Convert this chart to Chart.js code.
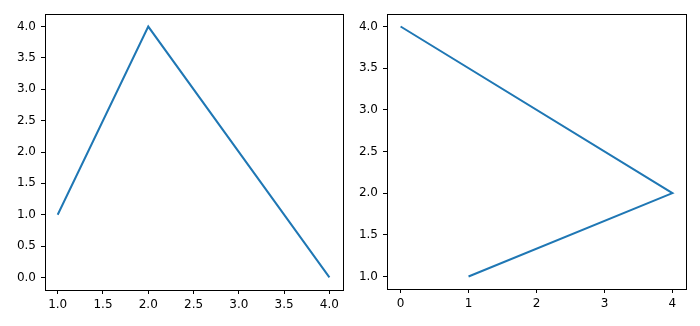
<!DOCTYPE html>
<html>
<head>
<meta charset="utf-8">
<script src="https://cdn.jsdelivr.net/npm/chart.js@4/dist/chart.umd.min.js"></script>
<style>
  body { margin: 0; background: #fff; }
  .box { position: absolute; top: 0; width: 350px; height: 326px; }
  #left { left: 0; }
  #right { left: 350px; }
</style>
</head>
<body>
<div class="box" id="left"><canvas id="chartLeft"></canvas></div>
<div class="box" id="right"><canvas id="chartRight"></canvas></div>
<script>
// left plot
const leftX = [1, 2, 4];
const leftY = [1, 4, 0];
const leftXTicks = [1.0, 1.5, 2.0, 2.5, 3.0, 3.5, 4.0];
const leftYTicks = [0.0, 0.5, 1.0, 1.5, 2.0, 2.5, 3.0, 3.5, 4.0];

// right plot
const rightX = [1, 4, 0];
const rightY = [1, 2, 4];
const rightXTicks = [0, 1, 2, 3, 4];
const rightYTicks = [1.0, 1.5, 2.0, 2.5, 3.0, 3.5, 4.0];

Chart.defaults.font.family = 'DejaVu Sans';
Chart.defaults.font.size = 12;
Chart.defaults.color = '#000';

const frame = {
    id: 'frame',
    afterDraw(chart) {
        const a = chart.chartArea;
        const ctx = chart.ctx;
        ctx.save();
        ctx.strokeStyle = '#000';
        ctx.lineWidth = 1;
        ctx.strokeRect(Math.round(a.left) + 0.5, Math.round(a.top) + 0.5,
            Math.round(a.right - a.left), Math.round(a.bottom - a.top));
        ctx.restore();
    }
};

function axis(ticks, min, max, digits, size, isY) {
    return {
        type: 'linear',
        min: min,
        max: max,
        afterBuildTicks: s => { s.ticks = ticks.map(v => ({ value: v })); },
        afterFit: s => { if (isY) s.width = size; else s.height = size; },
        grid: { drawOnChartArea: false, drawTicks: true, tickLength: 4, color: '#000' },
        border: { display: false },
        ticks: {
            padding: isY ? 5 : 4,
            maxRotation: 0,
            autoSkip: false,
            callback: v => v.toFixed(digits)
        }
    };
}

function makeChart(id, xs, ys, xAxis, yAxis, pad) {
    new Chart(document.getElementById(id), {
        type: 'scatter',
        data: {
            datasets: [{
                data: xs.map((x, i) => ({ x: x, y: ys[i] })),
                showLine: true,
                borderColor: '#1f77b4',
                borderWidth: 2,
                pointRadius: 0,
                tension: 0
            }]
        },
        options: {
            responsive: true,
            maintainAspectRatio: false,
            animation: false,
            layout: { padding: pad },
            plugins: { legend: { display: false }, tooltip: { enabled: false } },
            scales: { x: xAxis, y: yAxis }
        },
        plugins: [frame]
    });
}

makeChart('chartLeft', leftX, leftY,
    axis(leftXTicks, 0.86, 4.15, 1, 36, false),
    axis(leftYTicks, -0.2, 4.2, 1, 45, true),
    { left: 0, top: 14, right: 7, bottom: 0 });

makeChart('chartRight', rightX, rightY,
    axis(rightXTicks, -0.2, 4.2, 0, 37, false),
    axis(rightYTicks, 0.85, 4.15, 1, 37, true),
    { left: 0, top: 14, right: 14, bottom: 0 });
</script>
</body>
</html>
